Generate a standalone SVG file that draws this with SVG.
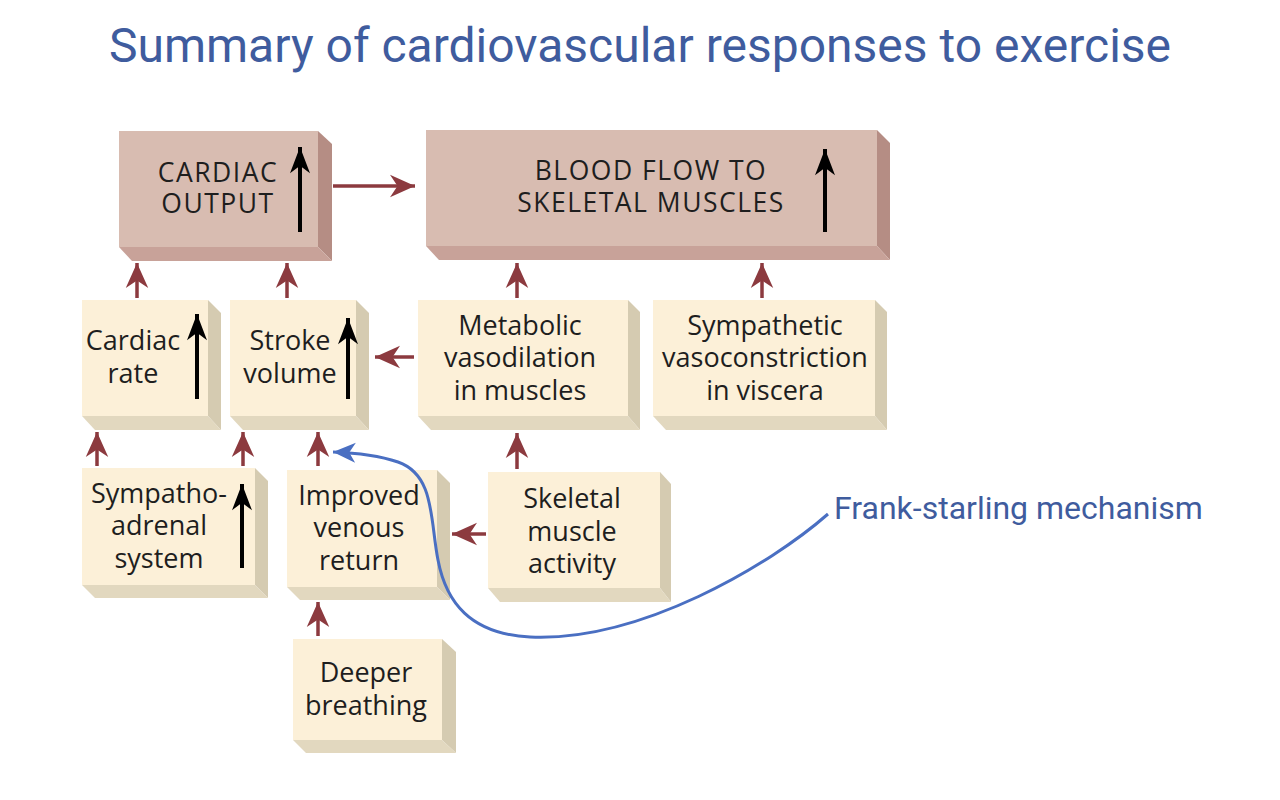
<svg xmlns="http://www.w3.org/2000/svg" width="1280" height="800" viewBox="0 0 1280 800">
<style>
.front-p{fill:#d8bcb1}
.side-p{fill:#b58d84}
.bot-p{fill:#c8a299}
.front-c{fill:#fcf0d8}
.side-c{fill:#d5cbb1}
.bot-c{fill:#e2d8bf}
.lbl{font-family:"Open Sans","Liberation Sans",sans-serif;font-size:27px;fill:#1e1e1e;text-anchor:middle}
.cap{font-family:"Open Sans","Liberation Sans",sans-serif;font-size:26.5px;letter-spacing:1.5px;fill:#1e1e1e;text-anchor:middle}
.rd{stroke:#8c3a3f;stroke-width:3.5;fill:none;marker-end:url(#rh)}
.bk{stroke:#000;stroke-width:4;fill:none;marker-end:url(#bh)}
.title{font-family:Roboto,"Liberation Sans",sans-serif;font-size:48px;fill:#3f5c9e;text-anchor:middle}
.note{font-family:Roboto,"Liberation Sans",sans-serif;font-size:32px;fill:#3f5c9e}
</style>
<defs>
<marker id="rh" markerUnits="userSpaceOnUse" markerWidth="30" markerHeight="30" viewBox="-22 -11 24 22" refX="0" refY="0" orient="auto">
<path d="M0,0 L-20,-9 L-14,0 L-20,9 Z" fill="#8c3a3f"/>
</marker>
<marker id="bh" markerUnits="userSpaceOnUse" markerWidth="30" markerHeight="30" viewBox="-22 -11 24 22" refX="0" refY="0" orient="auto">
<path d="M0,0 L-21,-8 L-15,0 L-21,8 Z" fill="#000"/>
</marker>
<marker id="blh" markerUnits="userSpaceOnUse" markerWidth="30" markerHeight="30" viewBox="-22 -11 24 22" refX="0" refY="0" orient="auto">
<path d="M0,0 L-18,-8 L-13,0 L-18,8 Z" fill="#4a6fc2"/>
</marker>
</defs>
<rect width="1280" height="800" fill="#fff"/>
<text class="title" x="640" y="62">Summary of cardiovascular responses to exercise</text>

<g id="cardiac-output">
<polygon class="side-p" points="318,131 332,144 332,261 318,247"/>
<polygon class="bot-p" points="119,247 318,247 332,261 132,261"/>
<rect class="front-p" x="119" y="131" width="199" height="116"/>
<text class="cap" x="218" y="182">CARDIAC</text>
<text class="cap" x="218" y="213">OUTPUT</text>
<line class="bk" x1="300" y1="232" x2="300" y2="147"/>
</g>

<g id="blood-flow">
<polygon class="side-p" points="877,130 890,143 890,260 877,246"/>
<polygon class="bot-p" points="426,246 877,246 890,260 439,260"/>
<rect class="front-p" x="426" y="130" width="451" height="116"/>
<text class="cap" x="651" y="180">BLOOD FLOW TO</text>
<text class="cap" x="651" y="212">SKELETAL MUSCLES</text>
<line class="bk" x1="825" y1="232" x2="825" y2="149"/>
</g>

<g id="cardiac-rate">
<polygon class="side-c" points="208,300 221,313 221,430 208,416"/>
<polygon class="bot-c" points="82,416 208,416 221,430 95,430"/>
<rect class="front-c" x="82" y="300" width="126" height="116"/>
<text class="lbl" x="133" y="350">Cardiac</text>
<text class="lbl" x="133" y="383">rate</text>
<line class="bk" x1="197" y1="399" x2="197" y2="314"/>
</g>

<g id="stroke-volume">
<polygon class="side-c" points="356,300 369,313 369,430 356,416"/>
<polygon class="bot-c" points="230,416 356,416 369,430 243,430"/>
<rect class="front-c" x="230" y="300" width="126" height="116"/>
<text class="lbl" x="290" y="350">Stroke</text>
<text class="lbl" x="290" y="383">volume</text>
<line class="bk" x1="348" y1="399" x2="348" y2="318"/>
</g>

<g id="metabolic">
<polygon class="side-c" points="628,300 640,312 640,430 628,416"/>
<polygon class="bot-c" points="418,416 628,416 640,430 431,430"/>
<rect class="front-c" x="418" y="300" width="210" height="116"/>
<text class="lbl" x="520" y="335">Metabolic</text>
<text class="lbl" x="520" y="367">vasodilation</text>
<text class="lbl" x="520" y="400">in muscles</text>
</g>

<g id="sympathetic">
<polygon class="side-c" points="875,300 887,312 887,430 875,416"/>
<polygon class="bot-c" points="653,416 875,416 887,430 666,430"/>
<rect class="front-c" x="653" y="300" width="222" height="116"/>
<text class="lbl" x="765" y="335">Sympathetic</text>
<text class="lbl" x="765" y="367">vasoconstriction</text>
<text class="lbl" x="765" y="400">in viscera</text>
</g>

<g id="sympatho-adrenal">
<polygon class="side-c" points="255,468 268,481 268,598 255,585"/>
<polygon class="bot-c" points="82,585 255,585 268,598 95,598"/>
<rect class="front-c" x="82" y="468" width="173" height="117"/>
<text class="lbl" x="159" y="503">Sympatho-</text>
<text class="lbl" x="159" y="535">adrenal</text>
<text class="lbl" x="159" y="568">system</text>
<line class="bk" x1="242" y1="568" x2="242" y2="484"/>
</g>

<g id="venous-return">
<polygon class="side-c" points="437,470 450,483 450,600 437,587"/>
<polygon class="bot-c" points="287,587 437,587 450,600 300,600"/>
<rect class="front-c" x="287" y="470" width="150" height="117"/>
<text class="lbl" x="359" y="505">Improved</text>
<text class="lbl" x="359" y="537">venous</text>
<text class="lbl" x="359" y="570">return</text>
</g>

<g id="skeletal-activity">
<polygon class="side-c" points="660,472 671,484 671,602 660,588"/>
<polygon class="bot-c" points="488,588 660,588 671,602 500,602"/>
<rect class="front-c" x="488" y="472" width="172" height="116"/>
<text class="lbl" x="572" y="508">Skeletal</text>
<text class="lbl" x="572" y="541">muscle</text>
<text class="lbl" x="572" y="573">activity</text>
</g>

<g id="deeper-breathing">
<polygon class="side-c" points="442,639 456,652 456,753 442,740"/>
<polygon class="bot-c" points="293,740 442,740 456,753 306,753"/>
<rect class="front-c" x="293" y="639" width="149" height="101"/>
<text class="lbl" x="366" y="682">Deeper</text>
<text class="lbl" x="366" y="715">breathing</text>
</g>

<g id="connectors">
<line class="rd" x1="333" y1="186" x2="415" y2="186"/>
<line class="rd" x1="137" y1="298" x2="137" y2="263"/>
<line class="rd" x1="287" y1="298" x2="287" y2="263"/>
<line class="rd" x1="517" y1="298" x2="517" y2="263"/>
<line class="rd" x1="762" y1="298" x2="762" y2="263"/>
<line class="rd" x1="414" y1="357" x2="375" y2="357"/>
<line class="rd" x1="97" y1="466" x2="97" y2="432"/>
<line class="rd" x1="243" y1="466" x2="243" y2="432"/>
<line class="rd" x1="318" y1="466" x2="318" y2="432"/>
<line class="rd" x1="517" y1="469" x2="517" y2="433"/>
<line class="rd" x1="486" y1="534" x2="452" y2="534"/>
<line class="rd" x1="318" y1="636" x2="318" y2="602"/>
<path d="M828,514 C770,565 640,642 530,637 C470,634 446,602 438,560 C430,520 435,475 398,462 C380,456 360,453 333,452" fill="none" stroke="#4a6fc2" stroke-width="3" marker-end="url(#blh)"/>
</g>
<text class="note" x="834" y="519">Frank-starling mechanism</text>
</svg>
